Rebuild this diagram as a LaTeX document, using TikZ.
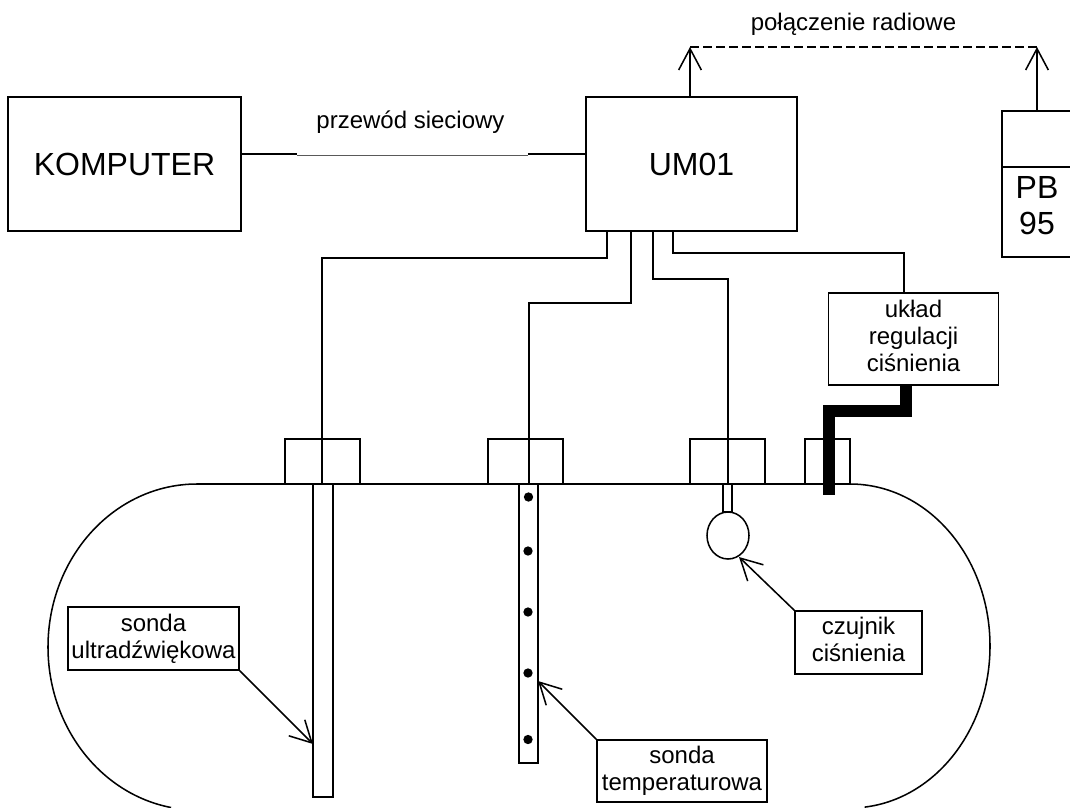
\documentclass[tikz,border=0pt]{standalone}
\usepackage{fontspec}
\setmainfont{Liberation Sans}
\usetikzlibrary{arrows.meta,shapes.geometric}
\newcommand{\liftlines}[2]{\raisebox{#1}{\begin{tabular}{@{}c@{}}#2\end{tabular}}}
\tikzset{
  ln/.style={line width=1.15pt,black},
  bigbox/.style={draw,line width=1.15pt,inner sep=0pt,font=\fontsize{24}{27}\selectfont,align=center,anchor=center},
  lblbox/.style={draw,line width=1.15pt,inner sep=0pt,font=\fontsize{18}{20}\selectfont,align=center,anchor=center},
  plain/.style={inner sep=0pt,font=\fontsize{18}{20}\selectfont},
  big/.style={inner sep=0pt,font=\fontsize{24}{27}\selectfont,align=center},
  flange/.style={draw,line width=1.15pt,inner sep=0pt},
  probe/.style={draw,line width=1.15pt,inner sep=0pt},
  dotmark/.style={circle,fill=black,inner sep=0pt,minimum size=7pt},
  barb/.style={-{Straight Barb[length=16pt,width=17pt,line width=1.15pt]}}
}
\begin{document}
\begin{tikzpicture}[x=0.75pt,y=-0.75pt]
\useasboundingbox (0,0) rectangle (1070,807);
% main boxes
\node[bigbox,minimum width=174.75pt,minimum height=100.5pt] (kom) at (124.5,164) {\raisebox{-0.75pt}{KOMPUTER}};
\node[bigbox,minimum width=158.25pt,minimum height=100.5pt] (um) at (691.5,164) {\raisebox{-0.75pt}{UM01}};
% PB box, cropped by the page edge
\coordinate (pbtr) at (1070,111);
\coordinate (pbtl) at (1002,111);
\coordinate (pbbl) at (1002,257);
\coordinate (pbbr) at (1070,257);
\coordinate (pbml) at (1002,167);
\coordinate (pbmr) at (1070,167);
\coordinate (pbtop) at (1037,111);
\draw[ln] (pbtr) -- (pbtl) -- (pbbl) -- (pbbr);
\draw[ln] (pbml) -- (pbmr);
\node[big] (pb) at (1037,205.5) {PB\\95};
% network cable
\coordinate (ca) at (297,154);
\coordinate (cb) at (528,154);
\coordinate (cc) at (297,155);
\coordinate (cd) at (528,155);
\draw[ln] (kom.east |- ca) -- (ca);
\draw[line width=0.6pt,black!65] (cc) -- (cd);
\draw[ln] (cb) -- (um.west |- cb);
\node[plain] (cable) at (410.5,122.5) {przewód sieciowy};
% radio link
\coordinate (umup) at (690,97);
\coordinate (radA) at (690,47);
\coordinate (radB) at (1037,47);
\draw[ln,barb] (umup) -- (radA);
\draw[ln,barb] (pbtop) -- (radB);
\draw[line width=1.15pt,dash pattern=on 6.75pt off 3pt] (radA) -- (radB);
\node[plain] (radio) at (853.5,24) {połączenie radiowe};
% tank
\coordinate (tl) at (197,484);
\coordinate (tr) at (850,484);
\draw[ln] (tl) arc[start angle=90,end angle=260,x radius=111.75pt,y radius=122.25pt];
\draw[ln] (tl) -- (tr);
\draw[ln] (tr) arc[start angle=90,end angle=-84,x radius=105pt,y radius=121.5pt];
% flanges
\node[flange,minimum width=56.25pt,minimum height=33.75pt] (f1) at (322.5,461.5) {};
\node[flange,minimum width=56.25pt,minimum height=33.75pt] (f2) at (525.5,461.5) {};
\node[flange,minimum width=56.25pt,minimum height=33.75pt] (f3) at (727.5,461.5) {};
\node[flange,minimum width=33.75pt,minimum height=33.75pt] (f4) at (827.5,461.5) {};
% probes
\node[probe,minimum width=15pt,minimum height=234.75pt] (p1) at (323,640.5) {};
\node[probe,minimum width=14.25pt,minimum height=209.25pt] (p2) at (528.5,623.5) {};
\node[dotmark] (d1) at (528.5,497) {};
\node[dotmark] (d2) at (528,551) {};
\node[dotmark] (d3) at (528,612) {};
\node[dotmark] (d4) at (528,673) {};
\node[dotmark] (d5) at (528,739.5) {};
% pressure sensor
\node[probe,minimum width=6.75pt,minimum height=21pt] (stem) at (727.5,498) {};
\node[draw,ellipse,line width=1.15pt,inner sep=0pt,minimum width=31.5pt,minimum height=35.25pt] (bulb) at (728,535.5) {};
% labels
\node[lblbox,minimum width=127.5pt,minimum height=69pt] (reg) at (913.5,339) {\liftlines{1.5pt}{układ\\regulacji\\ciśnienia}};
\node[lblbox,minimum width=128.25pt,minimum height=47.25pt] (su) at (153.5,638.5) {sonda\\ultradźwiękowa};
\node[lblbox,minimum width=127.5pt,minimum height=46.5pt] (st) at (682,771) {sonda\\temperaturowa};
\node[lblbox,minimum width=95.25pt,minimum height=47.25pt] (cz) at (858.5,642.5) {\liftlines{1.5pt}{czujnik\\ciśnienia}};
% wires
\coordinate (w1) at (607,231);
\coordinate (w2) at (631,231);
\coordinate (w3) at (653,231);
\coordinate (w4) at (673,231);
\coordinate (e1) at (322,484);
\coordinate (e2) at (529,484);
\coordinate (e3) at (728,484);
\coordinate (e4) at (904,293);
\draw[ln] (w1) |- (322,258) -- (e1);
\draw[ln] (w2) |- (529,303) -- (e2);
\draw[ln] (w3) |- (728,279) -- (e3);
\draw[ln] (w4) |- (904,253) -- (e4);
% thick pipe
\coordinate (ptop) at (906,385);
\coordinate (pend) at (829,495);
\draw[line width=9pt,miter limit=10] (ptop) -- (906,411) -- (829,411) -- (pend);
% callouts
\coordinate (t1) at (313,744);
\coordinate (t2) at (538,681);
\coordinate (t3) at (739,557);
\draw[ln,barb] (su.south east) -- (t1);
\draw[ln,barb] (st.north west) -- (t2);
\draw[ln,barb] (cz.north west) -- (t3);
\end{tikzpicture}
\end{document}
